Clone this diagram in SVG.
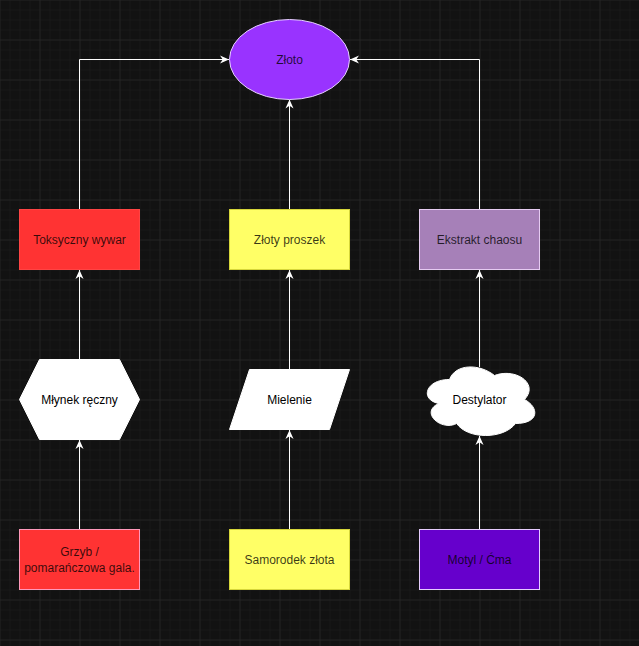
<svg xmlns="http://www.w3.org/2000/svg" width="639" height="646" viewBox="0 0 639 646">
  <style>
    .lbl { font-family: "Liberation Sans", Arial, Helvetica, sans-serif; font-size: 12px; text-anchor: middle; dominant-baseline: central; }
    .dark { fill: #000; fill-opacity: 0.78; }
    .blk { fill: #000; }
    .edge { fill: none; stroke: #ffffff; stroke-width: 1; }
  </style>
  <defs>
    <pattern id="minor" width="10" height="10" patternUnits="userSpaceOnUse" x="-0.5" y="-0.5">
      <path d="M10,0 L0,0 L0,10" fill="none" stroke="#1d1d1d" stroke-width="1"/>
    </pattern>
    <pattern id="major" width="40" height="40" patternUnits="userSpaceOnUse" x="-0.5" y="-0.5">
      <path d="M40,0 L0,0 L0,40" fill="none" stroke="#2c2c2c" stroke-width="1"/>
    </pattern>
    <marker id="arr" viewBox="0 0 10 10" refX="10" refY="5" markerWidth="9" markerHeight="9" markerUnits="userSpaceOnUse" orient="auto">
      <path d="M0,0.5 L10,5 L0,9.5 L3,5 Z" fill="#ffffff"/>
    </marker>
  </defs>
  <rect width="639" height="646" fill="#121212"/>
  <rect width="639" height="646" fill="url(#minor)"/>
  <rect width="639" height="646" fill="url(#major)"/>

  <g id="connectors">
    <path class="edge" d="M79.5,529.5 L79.5,440" marker-end="url(#arr)"/>
    <path class="edge" d="M79.5,359.5 L79.5,270" marker-end="url(#arr)"/>
    <path class="edge" d="M79.5,209.5 L79.5,59.5 L229,59.5" marker-end="url(#arr)"/>
    <path class="edge" d="M289.5,529.5 L289.5,430" marker-end="url(#arr)"/>
    <path class="edge" d="M289.5,369.5 L289.5,270" marker-end="url(#arr)"/>
    <path class="edge" d="M289.5,209.5 L289.5,99.5" marker-end="url(#arr)"/>
    <path class="edge" d="M479.5,529.5 L479.5,436" marker-end="url(#arr)"/>
    <path class="edge" d="M479.5,367 L479.5,270" marker-end="url(#arr)"/>
    <path class="edge" d="M479.5,209.5 L479.5,59.5 L350,59.5" marker-end="url(#arr)"/>
  </g>

  <g id="zloto">
    <ellipse cx="289.5" cy="59.5" rx="60" ry="40" fill="#9933ff" stroke="#e6d0ff" stroke-width="1"/>
    <text class="lbl dark" x="289.5" y="59.5">Złoto</text>
  </g>

  <g id="toksyczny-wywar">
    <rect x="19.5" y="209.5" width="120" height="60" fill="#ff3333" stroke="#ff4444" stroke-width="1"/>
    <text class="lbl dark" x="79.5" y="239.5">Toksyczny wywar</text>
  </g>

  <g id="zloty-proszek">
    <rect x="229.5" y="209.5" width="120" height="60" fill="#ffff66" stroke="#d6d63a" stroke-width="1"/>
    <text class="lbl dark" x="289.5" y="239.5">Złoty proszek</text>
  </g>

  <g id="ekstrakt-chaosu">
    <rect x="419.5" y="209.5" width="120" height="60" fill="#a680b8" stroke="#e6ccf2" stroke-width="1"/>
    <text class="lbl dark" x="479.5" y="239.5">Ekstrakt chaosu</text>
  </g>

  <g id="mlynek-reczny">
    <polygon points="39.5,359.5 119.5,359.5 139.5,399.5 119.5,439.5 39.5,439.5 19.5,399.5" fill="#ffffff" stroke="#ffffff" stroke-width="1"/>
    <text class="lbl blk" x="79.5" y="399.5">Młynek ręczny</text>
  </g>

  <g id="mielenie">
    <polygon points="249.5,369.5 349.5,369.5 329.5,429.5 229.5,429.5" fill="#ffffff" stroke="#ffffff" stroke-width="1"/>
    <text class="lbl blk" x="289.5" y="399.5">Mielenie</text>
  </g>

  <g id="destylator">
    <path d="M449.5,379.5 C425.5,379.5 419.5,399.5 438.7,403.5 C419.5,412.3 441.1,431.5 456.7,423.5 C467.5,439.5 503.5,439.5 515.5,423.5 C539.5,423.5 539.5,407.5 524.5,399.5 C539.5,383.5 515.5,367.5 494.5,375.5 C479.5,363.5 455.5,363.5 449.5,379.5 Z" fill="#ffffff" stroke="#ffffff" stroke-width="1"/>
    <text class="lbl blk" x="479.5" y="399.5">Destylator</text>
  </g>

  <g id="grzyb">
    <rect x="19.5" y="529.5" width="120" height="60" fill="#ff3333" stroke="#ff99bb" stroke-width="1"/>
    <text class="lbl dark" x="79.5" y="551.5">Grzyb /</text>
    <text class="lbl dark" x="79.5" y="567.5">pomarańczowa gala.</text>
  </g>

  <g id="samorodek-zlota">
    <rect x="229.5" y="529.5" width="120" height="60" fill="#ffff66" stroke="#d6d63a" stroke-width="1"/>
    <text class="lbl dark" x="289.5" y="559.5">Samorodek złota</text>
  </g>

  <g id="motyl-cma">
    <rect x="419.5" y="529.5" width="120" height="60" fill="#6600cc" stroke="#e6ccff" stroke-width="1"/>
    <text class="lbl dark" x="479.5" y="559.5">Motyl / Ćma</text>
  </g>
</svg>
